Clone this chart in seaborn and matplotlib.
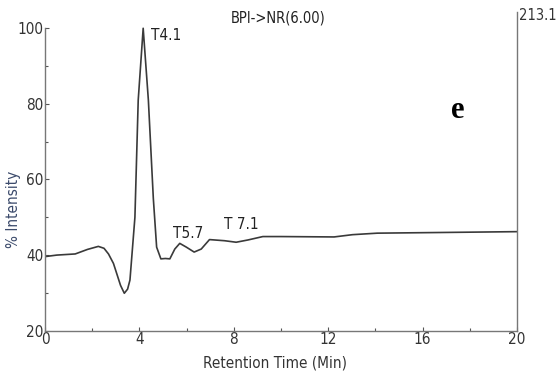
import matplotlib
matplotlib.use("Agg")
import matplotlib.pyplot as plt
import seaborn as sns
import pandas as pd
from matplotlib.ticker import MultipleLocator

sns.set_theme(style="white")
plt.rcParams['font.family'] = ['DejaVu Sans']
plt.rcParams['font.stretch'] = 'condensed'

time_min = [0, 0.5, 1.28, 1.8, 2.26, 2.5, 2.69, 2.9, 3.04, 3.2, 3.36, 3.5, 3.6,
            3.81, 3.95, 4.16, 4.38, 4.59, 4.73, 4.91, 5.1, 5.29, 5.5, 5.71,
            5.99, 6.32, 6.62, 6.97, 7.61, 8.1, 8.6, 9.23, 10, 12.25, 13.03,
            14.08, 17.1, 20]
intensity = [39.6, 40.0, 40.3, 41.5, 42.3, 41.8, 40.3, 37.8, 35.1, 32.0, 29.9,
             31.0, 33.4, 50.0, 81.0, 100.0, 81.0, 55.0, 42.1, 39.0, 39.1, 39.0,
             41.6, 43.1, 42.1, 40.8, 41.6, 44.1, 43.8, 43.4, 44.0, 44.9, 44.9,
             44.8, 45.4, 45.8, 46.0, 46.2]
peak_labels = ["T4.1", "T5.7", "T 7.1"]
peak_x = [4.5, 5.42, 7.6]
peak_y = [98.2, 45.6, 48.0]
x_ticks = [0, 4, 8, 12, 16, 20]
y_ticks = [20, 40, 60, 80, 100]

df = pd.DataFrame({"t": time_min, "i": intensity})

W, H = 556, 381
L, R, B, T = 45, 517, 330.7, 12
aw, ah = R - L, B - T

fig = plt.figure(figsize=(W/100, H/100), dpi=100)
ax = fig.add_axes([L/W, 1-B/H, aw/W, ah/H])
sns.lineplot(data=df, x="t", y="i", ax=ax, color="#3a3a3a", linewidth=1.2)

ax.set_xlim(0, 20)
ax.set_ylim(20, 104.3)
ax.set_xticks(x_ticks)
ax.set_yticks(y_ticks)
ax.xaxis.set_minor_locator(MultipleLocator(2))
ax.yaxis.set_minor_locator(MultipleLocator(10))
ax.tick_params(which='both', direction='in', length=3, width=0.8, color="#555555",
               labelsize=11, labelcolor="#333333", pad=1,
               bottom=True, left=True)
ax.tick_params(which='minor', length=2)
ax.set_ylim(20, 104.3)

for s in ["left", "bottom", "right"]:
    ax.spines[s].set_color("#777777")
    ax.spines[s].set_linewidth(1.0)
ax.spines["top"].set_visible(False)
ax.spines["left"].set_bounds(20, 100)

ax.set_xlabel("Retention Time (Min)", fontsize=11, color="#333333")
ax.xaxis.set_label_coords((275 - L)/aw, -(355 - B)/ah)
ax.set_ylabel("% Intensity", fontsize=11, color="#3b4a6b")
ax.yaxis.set_label_coords(-(L - 21)/aw, (B - 209)/ah)

for lab, x, y in zip(peak_labels, peak_x, peak_y):
    ax.text(x, y, lab, fontsize=11, color="#222222", ha="left", va="center")

ax.text(1.004, 0.99, "213.1", transform=ax.transAxes, fontsize=10.5,
        color="#333333", ha="left", va="center")
fig.text(278/W, 1-18/H, "BPI->NR(6.00)", fontsize=10.5, color="#222222",
         ha="center", va="center")
fig.text(458/W, 1-110/H, "e", fontsize=22, fontweight="bold",
         family=['Liberation Serif'], stretch='normal', color="black",
         ha="center", va="center")

fig.savefig("out.png", dpi=100)
